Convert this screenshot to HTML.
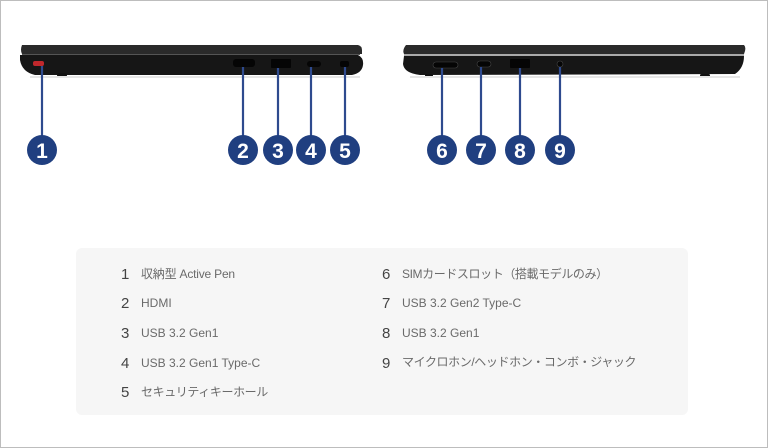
<!DOCTYPE html>
<html><head><meta charset="utf-8"><style>
html,body{margin:0;padding:0;background:#fff}
svg{display:block}
text{font-family:"Liberation Sans","Noto Sans CJK JP",sans-serif}
</style></head><body>
<svg width="768" height="448" viewBox="0 0 768 448" xmlns="http://www.w3.org/2000/svg">
<rect x="0.5" y="0.5" width="767" height="447" fill="#fff" stroke="#bdbdbd"/>
<!-- left laptop -->
<path d="M22,45 L358,45 Q362,46 362,50 L362,54 L22,54 Q20,50 22,45 Z" fill="#2a2a2a"/>
<path d="M20,55 L358,55 Q364,58 363,65 Q362,73 352,75 L35,75 Q22,72 20,60 Z" fill="#161616"/>
<line x1="22" y1="54.5" x2="360" y2="54.5" stroke="#555" stroke-width="1"/>
<rect x="33" y="61" width="11" height="5" rx="2" fill="#c0282c"/>
<rect x="57" y="73" width="10" height="4" rx="2" fill="#111"/>
<rect x="233" y="59" width="22" height="8" rx="3" fill="#050505"/>
<rect x="271" y="59" width="20" height="9" rx="1" fill="#050505"/>
<rect x="307" y="61" width="14" height="6" rx="3" fill="#050505"/>
<rect x="340" y="61" width="9" height="6" rx="2" fill="#050505"/>
<line x1="30" y1="77" x2="360" y2="77" stroke="#e6e6e6" stroke-width="2"/>
<!-- right laptop -->
<path d="M406,45 L744,45 Q746,47 745,51 L744,54 L404,54 Q402,50 406,45 Z" fill="#2a2a2a"/>
<path d="M404,56 L744,56 Q744,68 735,74 L420,75 Q404,73 403,64 Z" fill="#161616"/>
<line x1="404" y1="55" x2="744" y2="55" stroke="#555"/>
<rect x="433" y="62" width="25" height="6" rx="3" fill="#050505" stroke="#444" stroke-width="0.6"/>
<rect x="477" y="61" width="14" height="6" rx="3" fill="#050505" stroke="#444" stroke-width="0.6"/>
<rect x="510" y="59" width="20" height="9" rx="1" fill="#050505"/>
<circle cx="560" cy="64" r="3" fill="#050505" stroke="#444" stroke-width="0.6"/>
<rect x="425" y="74" width="8" height="3" rx="1.5" fill="#111"/>
<rect x="700" y="74" width="10" height="3" rx="1.5" fill="#111"/>
<line x1="410" y1="77" x2="740" y2="77" stroke="#e6e6e6" stroke-width="2"/>
<!-- leader lines -->
<g stroke="#2e4a8e" stroke-width="2.2">
<line x1="42" y1="66" x2="42" y2="140"/>
<line x1="243" y1="67" x2="243" y2="140"/>
<line x1="278" y1="68" x2="278" y2="140"/>
<line x1="311" y1="67" x2="311" y2="140"/>
<line x1="345" y1="67" x2="345" y2="140"/>
<line x1="442" y1="68" x2="442" y2="140"/>
<line x1="481" y1="67" x2="481" y2="140"/>
<line x1="520" y1="68" x2="520" y2="140"/>
<line x1="560" y1="67" x2="560" y2="140"/>
</g>
<g fill="#203f80">
<circle cx="42" cy="150" r="15"/><circle cx="243" cy="150" r="15"/><circle cx="278" cy="150" r="15"/>
<circle cx="311" cy="150" r="15"/><circle cx="345" cy="150" r="15"/><circle cx="442" cy="150" r="15"/>
<circle cx="481" cy="150" r="15"/><circle cx="520" cy="150" r="15"/><circle cx="560" cy="150" r="15"/>
</g>
<g fill="#fff" font-size="21" font-weight="bold" text-anchor="middle">
<text x="42" y="158">1</text><text x="243" y="158">2</text><text x="278" y="158">3</text>
<text x="311" y="158">4</text><text x="345" y="158">5</text><text x="442" y="158">6</text>
<text x="481" y="158">7</text><text x="520" y="158">8</text><text x="560" y="158">9</text>
</g>
<!-- panel -->
<rect x="76" y="248" width="612" height="167" rx="6" fill="#f6f6f6"/>
<g font-size="15" fill="#444">
<text x="121" y="279">1</text><text x="121" y="308">2</text><text x="121" y="338">3</text>
<text x="121" y="368">4</text><text x="121" y="397">5</text>
<text x="382" y="279">6</text><text x="382" y="308">7</text><text x="382" y="338">8</text><text x="382" y="368">9</text>
</g>
<g font-size="12" fill="#6a6a6a">
<text x="141" y="278" letter-spacing="-0.2">収納型 Active Pen</text>
<text x="141" y="307">HDMI</text>
<text x="141" y="337">USB 3.2 Gen1</text>
<text x="141" y="367">USB 3.2 Gen1 Type-C</text>
<text x="141" y="396" letter-spacing="-0.4">セキュリティキーホール</text>
<text x="402" y="278" letter-spacing="-0.4">SIMカードスロット（搭載モデルのみ）</text>
<text x="402" y="307">USB 3.2 Gen2 Type-C</text>
<text x="402" y="337">USB 3.2 Gen1</text>
<text x="402" y="366" letter-spacing="-0.4">マイクロホン/ヘッドホン・コンボ・ジャック</text>
</g>
</svg>
</body></html>
